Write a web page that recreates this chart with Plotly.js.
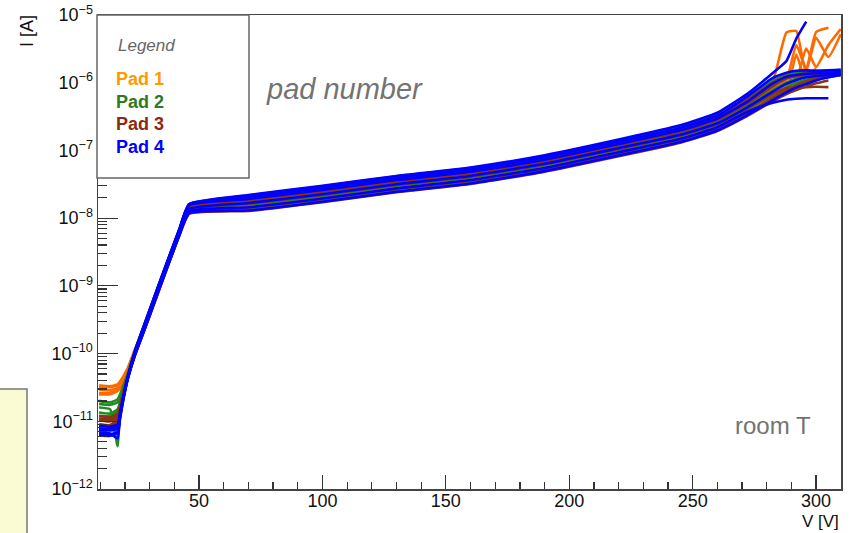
<!DOCTYPE html>
<html><head><meta charset="utf-8">
<script src="https://cdn.plot.ly/plotly-3.0.1.min.js"></script>
<style>html,body{margin:0;padding:0;background:#fff}#chart{width:851px;height:533px}</style>
</head><body><div id="chart"></div>
<script>
// Bias voltage grid [V]
const V = [9.5, 14, 17, 18, 19, 21, 24, 28, 33, 38, 42, 46, 70, 100, 130, 160, 190, 220, 245, 260, 272, 282, 288, 292, 296, 300, 305, 310];

// Leakage current [A], one row per sensor
const PAD1_I = [
  [3.2e-11,3.2e-11,3.4e-11,3.7e-11,4.2e-11,5.8e-11, 1.12e-10,2.7e-10,8.5e-10,2.7e-9,6.6e-9, 1.55e-8,1.95e-8,2.6e-8,3.7e-8,4.9e-8,7.4e-8,1.26e-7,2.0e-7,3.0e-7, 5.2e-7,9.5e-7,5.5e-6,5.8e-6,1.4e-6,1.6e-6,null,null],
  [2.9e-11,2.9e-11,3.1e-11,3.4e-11,3.9e-11,5.4e-11, 1.05e-10,2.5e-10,8.0e-10,2.5e-9,6.1e-9, 1.38e-8,1.68e-8,2.25e-8,3.2e-8,4.2e-8,6.3e-8,1.08e-7,1.72e-7,2.55e-7, 4.3e-7,7.8e-7,1.1e-6,3.6e-6,1.6e-6,5.6e-6,6.5e-6,null],
  [2.6e-11,2.65e-11,2.9e-11,3.2e-11,3.7e-11,5.2e-11, 1.0e-10,2.4e-10,7.6e-10,2.4e-9,5.8e-9, 1.28e-8,1.5e-8,2.0e-8,2.85e-8,3.75e-8,5.7e-8,9.6e-8,1.52e-7,2.3e-7, 3.9e-7,6.6e-7,8.8e-7,1.1e-6,3.2e-6,1.7e-6,3.6e-6,6.2e-6],
  [3.4e-11,3.3e-11,3.5e-11,3.9e-11,4.4e-11,6.0e-11, 1.15e-10,2.7e-10,8.3e-10,2.6e-9,6.3e-9, 1.45e-8,1.8e-8,2.4e-8,3.4e-8,4.5e-8,6.8e-8,1.16e-7,1.84e-7,2.75e-7, 4.8e-7,8.6e-7,1.2e-6,1.3e-6,1.5e-6,4.6e-6,2.4e-6,5.2e-6],
  [2.5e-11,2.5e-11,2.8e-11,3.1e-11,3.6e-11,5.0e-11, 9.8e-11,2.3e-10,7.3e-10,2.3e-9,5.6e-9, 1.18e-8,1.32e-8,1.78e-8,2.5e-8,3.3e-8,5.0e-8,8.5e-8,1.35e-7,2.0e-7, 3.4e-7,5.8e-7,7.5e-7,2.6e-6,1.0e-6,1.3e-6,null,null]
];
const PAD2_I = [
  [2.0e-11,1.9e-11,2.1e-11,2.5e-11,3.1e-11,4.9e-11, 1.1e-10,2.8e-10,8.9e-10,2.8e-9,6.8e-9, 1.6e-8,2.15e-8,2.95e-8,4.15e-8,5.5e-8,8.3e-8,1.4e-7,2.25e-7,3.4e-7, 6.0e-7,1.05e-6,1.3e-6,1.4e-6,1.45e-6,1.5e-6,1.5e-6,1.55e-6],
  [1.6e-11,1.5e-11,4.3e-12,2.0e-11,2.8e-11,4.7e-11, 1.05e-10,2.6e-10,8.2e-10,2.6e-9,6.3e-9, 1.45e-8,1.8e-8,2.4e-8,3.4e-8,4.5e-8,6.8e-8,1.15e-7,1.83e-7,2.7e-7, 4.5e-7,7.6e-7,1.0e-6,1.15e-6,1.25e-6,1.3e-6,1.35e-6,1.4e-6],
  [1.35e-11,1.3e-11,1.5e-11,1.9e-11,2.6e-11,4.5e-11, 1.0e-10,2.5e-10,7.8e-10,2.45e-9,5.9e-9, 1.32e-8,1.58e-8,2.1e-8,3.0e-8,3.95e-8,6.0e-8,1.02e-7,1.62e-7,2.4e-7, 4.0e-7,6.5e-7,8.6e-7,1.0e-6,1.12e-6,1.22e-6,1.3e-6,1.35e-6],
  [1.2e-11,1.2e-11,1.4e-11,1.8e-11,2.5e-11,4.4e-11, 9.6e-11,2.35e-10,7.4e-10,2.3e-9,5.6e-9, 1.2e-8,1.36e-8,1.85e-8,2.6e-8,3.45e-8,5.2e-8,8.8e-8,1.4e-7,2.08e-7, 3.5e-7,5.6e-7,7.4e-7,8.6e-7,9.8e-7,1.1e-6,1.2e-6,1.3e-6],
  [1.8e-11,1.75e-11,1.9e-11,2.3e-11,3.0e-11,4.8e-11, 1.08e-10,2.7e-10,8.6e-10,2.7e-9,6.5e-9, 1.55e-8,1.95e-8,2.65e-8,3.75e-8,4.95e-8,7.5e-8,1.28e-7,2.05e-7,3.05e-7, 5.3e-7,9.2e-7,1.2e-6,1.3e-6,1.38e-6,1.42e-6,1.45e-6,1.48e-6]
];
const PAD3_I = [
  [1.2e-11,1.15e-11,1.3e-11,1.7e-11,2.4e-11,4.5e-11, 1.07e-10,2.7e-10,8.6e-10,2.7e-9,6.6e-9, 1.55e-8,2.0e-8,2.75e-8,3.85e-8,5.1e-8,7.7e-8,1.32e-7,2.1e-7,3.15e-7, 5.6e-7,9.8e-7,1.25e-6,1.32e-6,1.38e-6,1.42e-6,1.45e-6,null],
  [1.05e-11,1.0e-11,1.2e-11,1.6e-11,2.3e-11,4.4e-11, 1.0e-10,2.5e-10,7.9e-10,2.5e-9,6.0e-9, 1.34e-8,1.63e-8,2.2e-8,3.1e-8,4.1e-8,6.2e-8,1.05e-7,1.66e-7,2.45e-7, 4.1e-7,6.7e-7,8.3e-7,8.6e-7,8.6e-7,8.7e-7,8.6e-7,null],
  [9.0e-12,8.8e-12,1.1e-11,1.5e-11,2.2e-11,4.3e-11, 9.6e-11,2.4e-10,7.5e-10,2.35e-9,5.7e-9, 1.22e-8,1.42e-8,1.92e-8,2.7e-8,3.55e-8,5.4e-8,9.2e-8,1.46e-7,2.15e-7, 3.6e-7,5.9e-7,7.8e-7,9.2e-7,1.05e-6,1.15e-6,1.25e-6,1.3e-6],
  [1.1e-11,1.08e-11,1.25e-11,1.65e-11,2.35e-11,4.4e-11, 1.03e-10,2.6e-10,8.2e-10,2.6e-9,6.3e-9, 1.46e-8,1.82e-8,2.45e-8,3.45e-8,4.55e-8,6.9e-8,1.18e-7,1.88e-7,2.8e-7, 4.9e-7,8.6e-7,1.15e-6,1.25e-6,1.32e-6,1.36e-6,1.4e-6,1.42e-6],
  [8.0e-12,8.0e-12,1.0e-11,1.4e-11,2.1e-11,4.2e-11, 9.3e-11,2.3e-10,7.2e-10,2.25e-9,5.5e-9, 1.15e-8,1.28e-8,1.72e-8,2.42e-8,3.2e-8,4.85e-8,8.2e-8,1.3e-7,1.93e-7, 3.2e-7,5.2e-7,6.8e-7,7.8e-7,8.8e-7,9.8e-7,1.08e-6,null]
];
const PAD4_I = [
  [8.5e-12,8.3e-12,9.0e-12,1.3e-11,2.0e-11,4.2e-11, 1.08e-10,2.8e-10,8.9e-10,2.8e-9,6.9e-9, 1.62e-8,2.2e-8,3.0e-8,4.2e-8,5.6e-8,8.5e-8,1.45e-7,2.35e-7,3.6e-7, 6.8e-7,1.35e-6,2.1e-6,4.5e-6,8.0e-6,null,null,null],
  [7.5e-12,7.3e-12,7.8e-12,1.25e-11,2.0e-11,4.3e-11, 1.05e-10,2.7e-10,8.5e-10,2.7e-9,6.5e-9, 1.55e-8,1.92e-8,2.6e-8,3.65e-8,4.85e-8,7.3e-8,1.24e-7,1.98e-7,2.95e-7, 5.2e-7,9.5e-7,1.22e-6,1.3e-6,1.35e-6,1.38e-6,1.4e-6,1.42e-6],
  [6.8e-12,6.6e-12,5.6e-12,1.2e-11,1.9e-11,4.2e-11, 1.0e-10,2.5e-10,8.0e-10,2.5e-9,6.1e-9, 1.36e-8,1.67e-8,2.25e-8,3.17e-8,4.2e-8,6.35e-8,1.08e-7,1.7e-7,2.52e-7, 4.3e-7,7.2e-7,9.6e-7,1.1e-6,1.2e-6,1.26e-6,1.3e-6,1.32e-6],
  [6.2e-12,6.1e-12,6.8e-12,1.15e-11,1.85e-11,4.1e-11, 9.7e-11,2.4e-10,7.6e-10,2.4e-9,5.8e-9, 1.26e-8,1.45e-8,1.95e-8,2.75e-8,3.65e-8,5.5e-8,9.4e-8,1.49e-7,2.2e-7, 3.7e-7,5.0e-7,5.6e-7,5.8e-7,5.9e-7,5.9e-7,5.9e-7,null],
  [6.5e-12,6.4e-12,7.0e-12,1.1e-11,1.8e-11,4.0e-11, 9.4e-11,2.3e-10,7.3e-10,2.3e-9,5.6e-9, 1.18e-8,1.3e-8,1.75e-8,2.45e-8,3.25e-8,4.95e-8,8.4e-8,1.33e-7,1.97e-7, 3.3e-7,5.4e-7,7.2e-7,8.5e-7,9.6e-7,1.08e-6,1.2e-6,1.3e-6],
  [8.0e-12,7.8e-12,8.5e-12,1.3e-11,2.0e-11,4.3e-11, 1.06e-10,2.7e-10,8.7e-10,2.75e-9,6.7e-9, 1.6e-8,2.05e-8,2.8e-8,3.9e-8,5.2e-8,7.9e-8,1.35e-7,2.15e-7,3.25e-7, 6.2e-7,1.15e-6,1.4e-6,1.5e-6,1.52e-6,1.5e-6,1.52e-6,1.55e-6]
];

const PAD_NAMES = ['Pad 1', 'Pad 2', 'Pad 3', 'Pad 4'];
const PAD_LINE_COLORS = ['#ff6a00', '#1e8c1e', '#8b3414', '#0000ff'];
const PAD_TEXT_COLORS = ['#ff9900', '#2e7a1c', '#8b2a10', '#0000ff'];
const X_TICKS = [50, 100, 150, 200, 250, 300];
const Y_TICK_EXP = [-12, -11, -10, -9, -8, -7, -6, -5];

const PADS = [PAD1_I, PAD2_I, PAD3_I, PAD4_I];

// plot area geometry (pixels)
const L = 98, R = 841, T = 15, B = 489;
const px = x => (x - L) / (R - L);
const py = y => (B - y) / (B - T);

const traces = [];
PADS.forEach((rows, p) => {
  rows.forEach(row => {
    traces.push({
      x: V, y: row, type: 'scatter', mode: 'lines',
      line: {color: PAD_LINE_COLORS[p], width: 2.6, shape: 'spline', smoothing: 0.45},
      connectgaps: false, showlegend: false, hoverinfo: 'skip'
    });
  });
});

const yMinor = [];
for (let e = -12; e < -5; e++) for (let k = 2; k <= 9; k++) yMinor.push(k * Math.pow(10, e));
const xMinor = [];
for (let v = 10; v <= 310; v += 10) xMinor.push(v);

const FONT = 'Liberation Sans, Arial, Helvetica, sans-serif';

const annotations = [
  {text: 'Legend', x: px(116), y: py(46), xanchor: 'left', yanchor: 'middle', font: {family: FONT, size: 17, color: '#666666', style: 'italic'}},
  {text: 'pad number', x: px(264), y: py(89), xanchor: 'left', yanchor: 'middle', font: {family: FONT, size: 29, color: '#737373', style: 'italic'}},
  {text: 'room T', x: px(813), y: py(425), xanchor: 'right', yanchor: 'middle', font: {family: FONT, size: 24, color: '#737373'}},
  {text: 'I [A]', x: px(27), y: py(31), xanchor: 'center', yanchor: 'middle', textangle: -90, font: {family: FONT, size: 18, color: '#111'}},
  {text: 'V [V]', x: px(841), y: py(521), xanchor: 'right', yanchor: 'middle', font: {family: FONT, size: 17, color: '#111'}}
];
PAD_NAMES.forEach((n, i) => {
  annotations.push({text: '<b>' + n + '</b>', x: px(114), y: py(79 + i * 22.5), xanchor: 'left', yanchor: 'middle',
    font: {family: FONT, size: 18, color: PAD_TEXT_COLORS[i]}});
});
annotations.forEach(a => { a.xref = 'paper'; a.yref = 'paper'; a.showarrow = false; });

const layout = {
  width: 851, height: 533, autosize: false,
  margin: {l: L, r: 851 - R, t: T, b: 533 - B, pad: 0},
  paper_bgcolor: '#ffffff', plot_bgcolor: '#ffffff',
  font: {family: FONT, size: 18, color: '#111'},
  xaxis: {
    range: [9.06, 310.1], showgrid: false, zeroline: false,
    showline: true, linecolor: '#444', linewidth: 1.5, mirror: true,
    ticks: 'inside', ticklen: 14, tickwidth: 1.2, tickcolor: '#333',
    tickmode: 'array', tickvals: X_TICKS, ticktext: X_TICKS.map(String),
    ticklabelstandoff: -5,
    tickfont: {family: FONT, size: 18, color: '#111'},
    minor: {ticks: 'inside', ticklen: 7, tickwidth: 1.2, tickcolor: '#333', tickmode: 'array', tickvals: xMinor, showgrid: false}
  },
  yaxis: {
    type: 'log', range: [-12, -5], showgrid: false, zeroline: false,
    showline: true, linecolor: '#444', linewidth: 1.5, mirror: true,
    ticks: 'inside', ticklen: 20, tickwidth: 1.2, tickcolor: '#333',
    tickmode: 'array', tickvals: Y_TICK_EXP.map(e => Math.pow(10, e)),
    ticktext: Y_TICK_EXP.map(e => '10<sup>\u2212' + Math.abs(e) + '</sup>'),
    tickfont: {family: FONT, size: 18, color: '#111'},
    minor: {ticks: 'inside', ticklen: 9, tickwidth: 1.2, tickcolor: '#333', tickmode: 'array', tickvals: yMinor, showgrid: false}
  },
  shapes: [
    {type: 'rect', xref: 'paper', yref: 'paper', x0: px(97), x1: px(249), y0: py(178), y1: py(15),
     fillcolor: '#ffffff', line: {color: '#666', width: 1.5}, layer: 'above'},
    {type: 'rect', xref: 'paper', yref: 'paper', x0: px(-10), x1: px(27), y0: py(545), y1: py(389),
     fillcolor: '#fbfbd3', line: {color: '#777', width: 1.5}, layer: 'above'}
  ],
  annotations: annotations
};

Plotly.newPlot('chart', traces, layout, {staticPlot: true, displayModeBar: false});
</script>
</body></html>
